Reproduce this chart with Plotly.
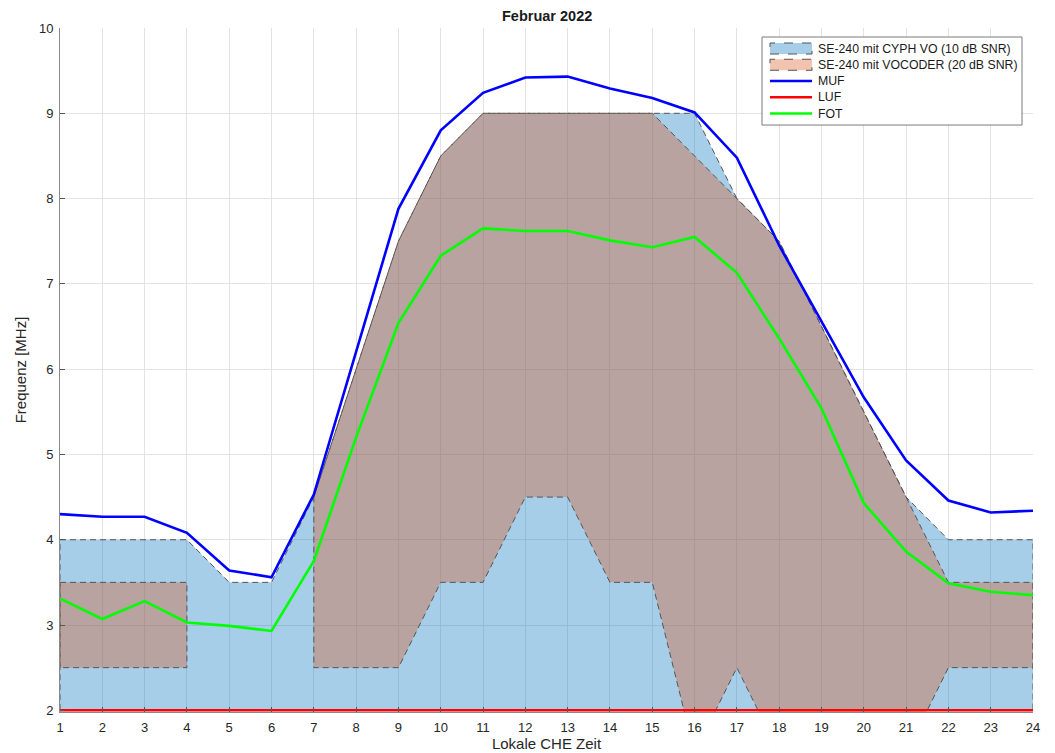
import plotly.graph_objects as go

hours = list(range(1, 25))
x_ticks = list(range(1, 25))
y_ticks = [2, 3, 4, 5, 6, 7, 8, 9, 10]

cyph_upper = [4, 4, 4, 4, 3.5, 3.5, 4.5, 6, 7.5, 8.5, 9, 9, 9, 9, 9, 9, 8, 7.5, 6.5, 5.5, 4.5, 4, 4, 4]
cyph_lower = [2, 2, 2, 2, 2, 2, 2, 2, 2, 2, 2, 2, 2, 2, 2, 2, 2, 2, 2, 2, 2, 2, 2, 2]

voc_upper = [3.5, 3.5, 3.5, 3.5, None, None, 4.5, 6, 7.5, 8.5, 9, 9, 9, 9, 9, 8.5, 8, 7.5, 6.5, 5.5, 4.5, 3.5, 3.5, 3.5]
voc_lower = [2.5, 2.5, 2.5, 2.5, None, None, 2.5, 2.5, 2.5, 3.5, 3.5, 4.5, 4.5, 3.5, 3.5, 1.5, 2.5, 1.5, 1.5, 1.5, 1.5, 2.5, 2.5, 2.5]

muf = [4.30, 4.27, 4.27, 4.08, 3.64, 3.56, 4.53, 6.2, 7.88, 8.80, 9.24, 9.42, 9.43, 9.29, 9.18, 9.01, 8.48, 7.45, 6.56, 5.67, 4.93, 4.46, 4.32, 4.34]
luf = [2, 2, 2, 2, 2, 2, 2, 2, 2, 2, 2, 2, 2, 2, 2, 2, 2, 2, 2, 2, 2, 2, 2, 2]
fot = [3.31, 3.07, 3.28, 3.03, 2.99, 2.93, 3.75, 5.2, 6.54, 7.33, 7.65, 7.62, 7.62, 7.51, 7.43, 7.55, 7.13, 6.36, 5.54, 4.43, 3.86, 3.49, 3.39, 3.35]

series_names = ["SE-240 mit CYPH VO (10 dB SNR)", "SE-240 mit VOCODER (20 dB SNR)", "MUF", "LUF", "FOT"]

CYPH_FILL = "rgba(0,114,189,0.35)"
VOC_FILL = "rgba(217,83,25,0.35)"
EDGE = "#555555"
DASH = "6px,4px"
MUF_C, LUF_C, FOT_C = "#0000ff", "#ff0000", "#00ff00"


def band_polygon(xs, upper, lower):
    px, py = [], []
    seg = []

    def flush(seg):
        sx = [s[0] for s in seg]
        return (sx + sx[::-1] + [sx[0], None],
                [s[1] for s in seg] + [s[2] for s in seg][::-1] + [seg[0][1], None])

    for xv, u, l in zip(xs, upper, lower):
        if u is None or l is None:
            if seg:
                a, b = flush(seg)
                px += a
                py += b
                seg = []
        else:
            seg.append((xv, u, l))
    if seg:
        a, b = flush(seg)
        px += a
        py += b
    return px, py


fig = go.Figure()

bx, by = band_polygon(hours, cyph_upper, cyph_lower)
fig.add_trace(go.Scatter(
    x=bx, y=by, mode="lines", fill="toself", fillcolor=CYPH_FILL,
    line=dict(color=EDGE, width=1, dash=DASH),
    name=series_names[0], hoverinfo="skip", showlegend=False))

vx, vy = band_polygon(hours, voc_upper, voc_lower)
fig.add_trace(go.Scatter(
    x=vx, y=vy, mode="lines", fill="toself", fillcolor=VOC_FILL,
    line=dict(color=EDGE, width=1, dash=DASH),
    name=series_names[1], hoverinfo="skip", showlegend=False))

fig.add_trace(go.Scatter(x=hours, y=muf, mode="lines", showlegend=False,
                         line=dict(color=MUF_C, width=2.6), name=series_names[2]))
fig.add_trace(go.Scatter(x=hours, y=luf, mode="lines", showlegend=False,
                         line=dict(color=LUF_C, width=2.6), name=series_names[3]))
fig.add_trace(go.Scatter(x=hours, y=fot, mode="lines", showlegend=False,
                         line=dict(color=FOT_C, width=2.6), name=series_names[4]))

# ---- manual legend (screen-pixel layout -> paper coords) ----
PX0, PX1, PYT, PYB = 60.0, 1033.0, 28.0, 711.7


def fx(px):
    return (px - PX0) / (PX1 - PX0)


def fy(py):
    return (PYB - py) / (PYB - PYT)


shapes = []
annotations = []
shapes.append(dict(type="rect", xref="paper", yref="paper",
                   x0=fx(762), x1=fx(1022), y0=fy(125), y1=fy(37),
                   fillcolor="white", line=dict(color="#7a7a7a", width=1), layer="above"))
centers = [48.5 + 16.25 * i for i in range(5)]
for i, (name, cy) in enumerate(zip(series_names, centers)):
    if i < 2:
        shapes.append(dict(type="rect", xref="paper", yref="paper",
                           x0=fx(770), x1=fx(812), y0=fy(cy + 5.5), y1=fy(cy - 5.5),
                           fillcolor=[CYPH_FILL, VOC_FILL][i],
                           line=dict(color=EDGE, width=1, dash="dash"), layer="above"))
    else:
        shapes.append(dict(type="line", xref="paper", yref="paper",
                           x0=fx(770), x1=fx(812), y0=fy(cy), y1=fy(cy),
                           line=dict(color=[MUF_C, LUF_C, FOT_C][i - 2], width=2.6),
                           layer="above"))
    annotations.append(dict(xref="paper", yref="paper", x=fx(816), y=fy(cy),
                            xanchor="left", yanchor="middle", showarrow=False,
                            text=name, font=dict(size=12.3, color="#1a1a1a")))

# title as an annotation placed just above the plot area
annotations.append(dict(xref="paper", yref="paper", x=0.5, y=fy(16.5),
                        xanchor="center", yanchor="middle", showarrow=False,
                        text="<b>Februar 2022</b>", font=dict(size=14.5, color="#1a1a1a")))

axis_common = dict(
    showgrid=True, gridcolor="#e3e3e3", gridwidth=1,
    showline=True, linecolor="#8a8a8a", linewidth=1,
    ticks="inside", ticklen=5, tickcolor="#555555",
    tickfont=dict(size=13, color="#262626"),
    zeroline=False,
)

fig.update_layout(
    width=1055, height=753,
    margin=dict(l=52, r=30, t=20, b=49, autoexpand=False),
    paper_bgcolor="white", plot_bgcolor="white",
    font=dict(family="Liberation Sans, Arial, Helvetica, sans-serif", color="#262626"),
    xaxis=dict(range=[1, 24], tickvals=x_ticks, ticklabelstandoff=3,
               title=dict(text="Lokale CHE Zeit", font=dict(size=15, color="#262626"), standoff=3),
               **axis_common),
    yaxis=dict(range=[1.98, 10], tickvals=y_ticks, ticklabelstandoff=3,
               title=dict(text="Frequenz [MHz]", font=dict(size=15, color="#262626"), standoff=8),
               **axis_common),
    shapes=shapes,
    annotations=annotations,
    showlegend=False,
)

fig.write_html("out.html")
